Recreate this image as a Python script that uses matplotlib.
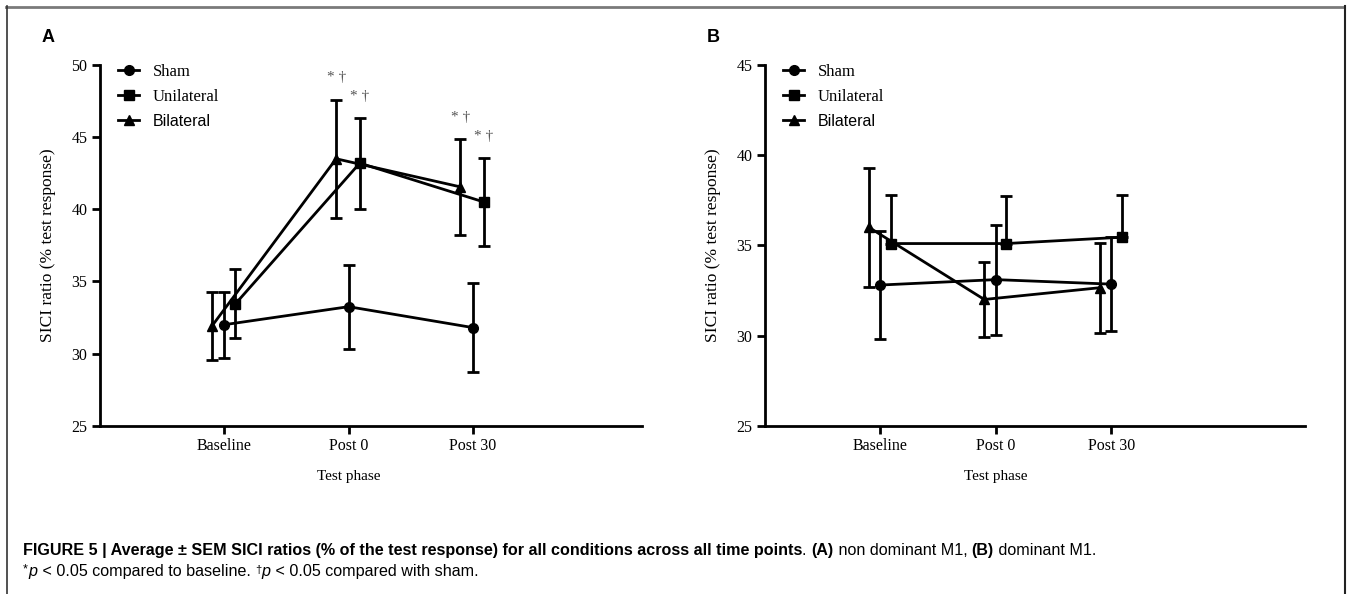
import numpy as np
import matplotlib
matplotlib.use('Agg')
import matplotlib.pyplot as plt
from matplotlib.lines import Line2D

# data
phases = ['Baseline', 'Post 0', 'Post 30']

# panel A (non dominant M1)
sham_a = [32.0, 33.25, 31.8]
sham_a_sem = [2.3, 2.9, 3.1]
uni_a = [33.45, 43.2, 40.5]
uni_a_sem = [2.4, 3.15, 3.05]
bi_a = [31.9, 43.5, 41.55]
bi_a_sem = [2.35, 4.1, 3.3]

# panel B (dominant M1)
sham_b = [32.8, 33.1, 32.85]
sham_b_sem = [3.0, 3.05, 2.6]
uni_b = [35.1, 35.1, 35.45]
uni_b_sem = [2.68, 2.65, 2.33]   # only upper bars drawn
bi_b = [36.0, 32.0, 32.65]
bi_b_sem = [3.3, 2.1, 2.5]

# significance marks in A: (series, phase index)
sig_a = [('Bilateral', 1), ('Unilateral', 1), ('Bilateral', 2), ('Unilateral', 2)]

SERIF = 'Liberation Serif'
SANS = 'Liberation Sans'

fig = plt.figure(figsize=(13.49, 5.94), dpi=100)

offs = {'Sham': 0.0, 'Unilateral': 0.09, 'Bilateral': -0.1}
mk = {'Sham': 'o', 'Unilateral': 's', 'Bilateral': '^'}
ms = {'Sham': 7, 'Unilateral': 7, 'Bilateral': 7}


def panel(rect, series, ylim, yticks, xmax, upper_only=()):
    ax = fig.add_axes(rect)
    x = np.arange(1, len(phases) + 1)
    for name, (vals, sem) in series.items():
        xx = x + offs[name]
        if name in upper_only:
            err = [np.zeros(len(sem)), sem]
        else:
            err = sem
        ax.errorbar(xx, vals, yerr=err, color='black', lw=2, marker=mk[name],
                    ms=ms[name], capsize=4.5, capthick=2, elinewidth=2, zorder=3)
    ax.set_xlim(0, xmax)
    ax.set_ylim(*ylim)
    ax.set_yticks(yticks)
    ax.set_xticks(x)
    ax.set_xticklabels(phases)
    for s in ['top', 'right']:
        ax.spines[s].set_visible(False)
    for s in ['left', 'bottom']:
        ax.spines[s].set_linewidth(2)
    ax.tick_params(width=2, length=6, labelsize=11.5, pad=3)
    for t in ax.get_xticklabels() + ax.get_yticklabels():
        t.set_family(SERIF)
    ax.set_ylabel('SICI ratio (% test response)', family=SERIF, fontsize=12.5, labelpad=11)
    ax.set_xlabel('Test phase', family=SERIF, fontsize=11)
    ax.xaxis.set_label_coords(2 / xmax, -0.122)

    handles = [Line2D([], [], color='black', lw=2, marker=mk[n], ms=ms[n]) for n in series]
    leg = ax.legend(handles, list(series.keys()), loc='upper left', frameon=False,
                    bbox_to_anchor=(0.005, 1.045), handlelength=1.3, handletextpad=0.8,
                    labelspacing=0.55, prop={'family': SERIF, 'size': 12})
    leg.get_texts()[2].set_family(SANS)
    leg.get_texts()[2].set_fontsize(11.5)
    return ax


ser_a = {'Sham': (sham_a, sham_a_sem), 'Unilateral': (uni_a, uni_a_sem),
         'Bilateral': (bi_a, bi_a_sem)}
ax_a = panel([0.0741, 0.2833, 0.4018, 0.6073], ser_a,
             (25, 50), [25, 30, 35, 40, 45, 50], 4.36)

for name, i in sig_a:
    vals, sem = ser_a[name]
    ax_a.text(i + 1 + offs[name], vals[i] + sem[i] + 1.5, '* \u2020', ha='center', va='center',
              fontsize=11, color='#555555', family=SERIF)

ax_b = panel([0.5671, 0.2833, 0.4003, 0.6073],
             {'Sham': (sham_b, sham_b_sem), 'Unilateral': (uni_b, uni_b_sem),
              'Bilateral': (bi_b, bi_b_sem)},
             (25, 45), [25, 30, 35, 40, 45], 4.68, upper_only=('Unilateral',))

# panel letters
fig.text(42 / 1349, 1 - 38 / 594, 'A', fontsize=13, fontweight='bold', family=SANS, va='center')
fig.text(707 / 1349, 1 - 38 / 594, 'B', fontsize=13, fontweight='bold', family=SANS, va='center')

# frame around the figure
fig.add_artist(Line2D([6 / 1349, 1343 / 1349], [1 - 6.5 / 594, 1 - 6.5 / 594], color='#7a7a7a', lw=2))
fig.add_artist(Line2D([6.5 / 1349, 6.5 / 1349], [0, 1 - 6 / 594], color='#333333', lw=1.2))
fig.add_artist(Line2D([1344.5 / 1349, 1344.5 / 1349], [0, 1 - 6 / 594], color='#222222', lw=1.5))

# caption
cax = fig.add_axes([0, 0, 1, 1])
cax.axis('off')
CAP = SANS
FS = 11.6


def chain(pieces, first):
    prev = first
    for txt, kw in pieces:
        base = dict(fontsize=FS, family=CAP, va='bottom')
        dy = kw.pop('dy', 0)
        dx = kw.pop('dx', 0)
        base.update(kw)
        prev = cax.annotate(txt, xy=(1, 0), xycoords=prev, xytext=(dx, dy),
                            textcoords='offset points', **base)
    return prev


first1 = cax.text(23 / 1349, 1 - 558 / 594,
                  'FIGURE 5 | Average \u00b1 SEM SICI ratios (% of the test response) for all conditions across all time points',
                  fontsize=FS, family=CAP, fontweight='bold', va='bottom', transform=fig.transFigure)
line1 = [
    ('. ', {}),
    ('(A)', dict(fontweight='bold')),
    (' non dominant M1, ', {}),
    ('(B)', dict(fontweight='bold')),
    (' dominant M1.', {}),
]
chain(line1, first1)

star = cax.text(23 / 1349, 1 - 579 / 594 + 4 / 594, '*', fontsize=9, family=CAP, va='bottom',
                transform=fig.transFigure)
line2 = [
    ('p', dict(style='italic', dy=-3, dx=0.5)),
    (' < 0.05 compared to baseline. ', {}),
    ('\u2020', dict(fontsize=8, dy=3)),
    ('p', dict(style='italic', dy=-3, dx=0.5)),
    (' < 0.05 compared with sham.', {}),
]
chain(line2, star)

fig.savefig('out.png', dpi=100)
